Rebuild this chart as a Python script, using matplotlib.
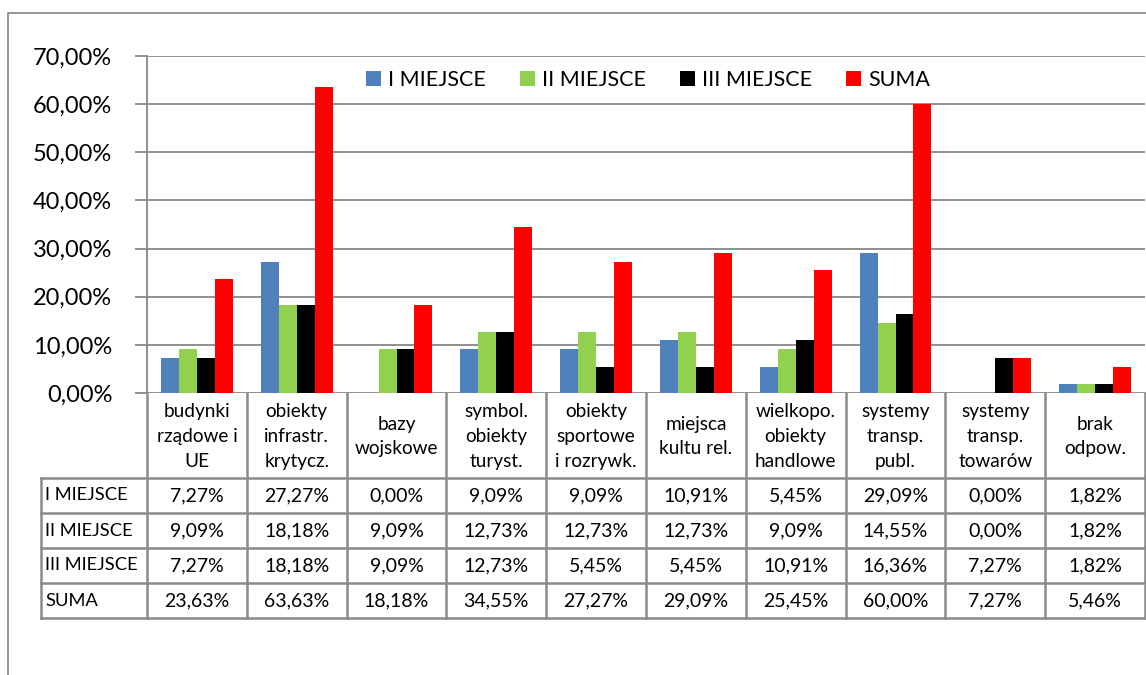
import matplotlib
matplotlib.use("Agg")
import matplotlib.pyplot as plt
from matplotlib.patches import Patch

plt.rcParams['font.family'] = ['Lato', 'DejaVu Sans']

categories = ["budynki\nrządowe i\nUE", "obiekty\ninfrastr.\nkrytycz.", "bazy\nwojskowe",
              "symbol.\nobiekty\nturyst.", "obiekty\nsportowe\ni rozrywk.", "miejsca\nkultu rel.",
              "wielkopo.\nobiekty\nhandlowe", "systemy\ntransp.\npubl.", "systemy\ntransp.\ntowarów",
              "brak\nodpow."]
series_names = ["I MIEJSCE", "II MIEJSCE", "III MIEJSCE", "SUMA"]
miejsce_1 = [7.27, 27.27, 0.00, 9.09, 9.09, 10.91, 5.45, 29.09, 0.00, 1.82]
miejsce_2 = [9.09, 18.18, 9.09, 12.73, 12.73, 12.73, 9.09, 14.55, 0.00, 1.82]
miejsce_3 = [7.27, 18.18, 9.09, 12.73, 5.45, 5.45, 10.91, 16.36, 7.27, 1.82]
suma = [23.63, 63.63, 18.18, 34.55, 27.27, 29.09, 25.45, 60.00, 7.27, 5.46]
yticks = [0, 10, 20, 30, 40, 50, 60, 70]

series = [miejsce_1, miejsce_2, miejsce_3, suma]
colors = ["#4F81BD", "#92D050", "#000000", "#FF0000"]

W, H = 1146, 675
fig = plt.figure(figsize=(W / 100, H / 100), dpi=100)

def fx(px):
    return px / W

def fy(py):
    return 1 - py / H

grid_c = "#878787"
txt_c = "#000000"

ov = fig.add_axes([0, 0, 1, 1])
ov.set_xlim(0, W)
ov.set_ylim(H, 0)
ov.axis("off")

ov.plot([8, 8, W + 5], [H + 5, 13, 13], color="#8c8c8c", lw=1.3)

left_px, right_px, top_px, bot_px = 147, 1145, 56, 393
ax = fig.add_axes([fx(left_px), fy(bot_px), fx(right_px - left_px), (bot_px - top_px) / H])
n = len(categories)
bw = 0.18
for k, (vals, c, name) in enumerate(zip(series, colors, series_names)):
    xs = [i + (k - 1.5) * bw for i in range(n)]
    ax.bar(xs, vals, width=bw, color=c, label=name, zorder=3)
ax.set_xlim(-0.5, n - 0.5)
ax.set_ylim(0, 70)
ax.set_yticks(yticks)
ax.set_yticklabels([f"{v:.2f}%".replace(".", ",") for v in yticks], fontsize=17, color=txt_c)
ax.set_xticks([])
ax.yaxis.grid(True, color=grid_c, lw=1.3, zorder=0)
ax.tick_params(axis="y", length=9, width=1.3, color=grid_c, pad=16)
for s in ["top", "right", "bottom"]:
    ax.spines[s].set_visible(False)
ax.spines["left"].set_color(grid_c)
ax.spines["left"].set_linewidth(1.3)

handles = [Patch(facecolor=c, edgecolor="none") for c in colors]
fig.legend(handles, series_names, loc="center", bbox_to_anchor=(fx(648), fy(80)), ncol=4,
           frameon=False, fontsize=15.5, handlelength=0.7, handleheight=0.7,
           handletextpad=0.3, columnspacing=1.6, labelcolor=txt_c)

colw = (right_px - left_px) / n
label_left = 41
header_top, header_bot = 393, 478
row_h = 35
rows = [(series_names[k], series[k]) for k in range(4)]
table_bot = header_bot + row_h * len(rows)
lc = "#8a8a8a"
lw = 1.8
for i in range(n + 1):
    x = left_px + i * colw
    ov.plot([x, x], [header_top, table_bot], color=lc, lw=lw)
ov.plot([label_left, label_left], [header_bot, table_bot], color=lc, lw=lw)
for r in range(len(rows) + 1):
    y = header_bot + r * row_h
    ov.plot([label_left, right_px], [y, y], color=lc, lw=lw)

for i, cat in enumerate(categories):
    cx = left_px + (i + 0.5) * colw
    ov.text(cx, (header_top + header_bot) / 2 + 1, cat, ha="center", va="center",
            fontsize=13.7, linespacing=1.55, color=txt_c)
for r, (name, vals) in enumerate(rows):
    cy = header_bot + (r + 0.5) * row_h
    ov.text(label_left + 4, cy, name, ha="left", va="center", fontsize=13.2, color=txt_c)
    for i, v in enumerate(vals):
        cx = left_px + (i + 0.5) * colw
        ov.text(cx, cy, f"{v:.2f}%".replace(".", ","), ha="center", va="center",
                fontsize=14, color=txt_c)

fig.savefig("out.png", dpi=100)
